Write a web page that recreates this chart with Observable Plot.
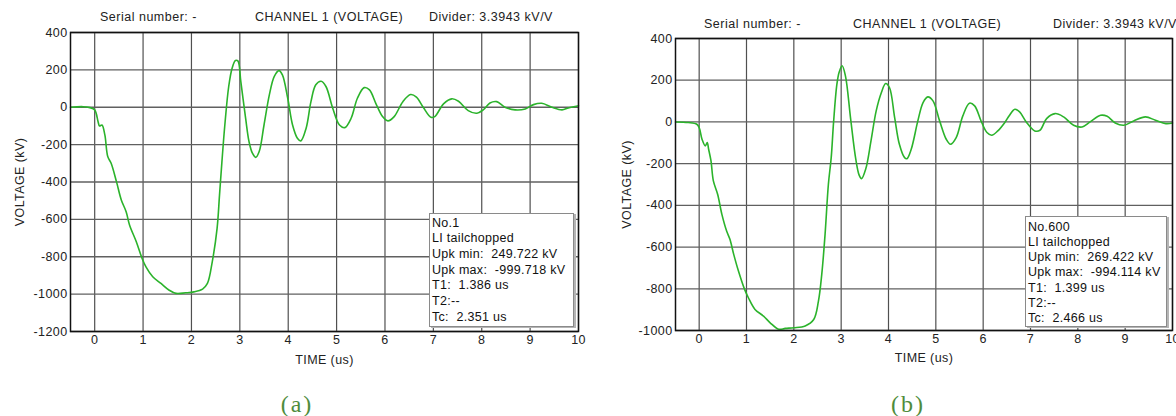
<!DOCTYPE html>
<html><head><meta charset="utf-8">
<script src="https://cdn.jsdelivr.net/npm/d3@7"></script>
<script src="https://cdn.jsdelivr.net/npm/@observablehq/plot@0.6"></script>
<style>
body{margin:0;background:#fff;}
#root{position:relative;width:1176px;height:416px;overflow:hidden;background:#fff;font-family:"Liberation Sans",Arial,sans-serif;color:#222;}
.panel{position:absolute;top:0;}
.t{position:absolute;font-size:12.5px;letter-spacing:0.5px;white-space:pre;line-height:14px;color:#222;}
.box{position:absolute;background:#fff;border:1px solid #8a8a8a;box-shadow:2px 1px 0 #b5b5b5;font-size:12.5px;letter-spacing:0.3px;white-space:pre;box-sizing:border-box;padding-left:2px;color:#111;}
.cap{position:absolute;font-family:"Liberation Serif","Times New Roman",serif;font-size:24px;color:#4f8c3c;letter-spacing:2px;transform:translate(-50%,-50%);}
</style></head>
<body>
<div id="root"></div>
<script>
// ---- data ----
const xTicks = [0,1,2,3,4,5,6,7,8,9,10];
const yTicksA = [-1200,-1000,-800,-600,-400,-200,0,200,400];
const yTicksB = [-1000,-800,-600,-400,-200,0,200,400];

const timeA = [-0.5,-0.24,-0.1,0,0.07,0.10,0.15,0.21,0.27,0.34,0.45,0.55,0.65,0.72,0.86,0.98,1.06,1.20,1.37,1.54,1.68,1.88,2.05,2.23,2.33,2.43,2.53,2.58,2.63,2.69,2.77,2.84,2.91,2.96,3.02,3.12,3.19,3.26,3.33,3.40,3.50,3.61,3.71,3.81,3.88,3.99,4.09,4.19,4.26,4.37,4.47,4.57,4.68,4.78,4.92,5.06,5.17,5.30,5.43,5.57,5.68,5.81,5.95,6.06,6.19,6.37,6.53,6.65,6.79,6.95,7.03,7.21,7.38,7.52,7.72,7.90,8.03,8.17,8.31,8.48,8.69,8.90,9.07,9.24,9.45,9.66,9.79,10.0];
const voltA = [0,3,-2,-14,-77,-100,-95,-148,-264,-300,-398,-496,-559,-630,-720,-809,-854,-907,-943,-979,-996,-993,-988,-973,-943,-827,-648,-470,-291,-95,111,209,250,248,138,-60,-184,-246,-268,-237,-95,66,164,196,173,48,-95,-166,-180,-112,30,120,139,111,-5,-95,-109,-59,48,105,93,21,-50,-73,-50,30,68,54,0,-54,-50,18,45,32,-18,-32,-14,23,30,0,-14,-9,14,21,0,-14,-4,8];

const timeB = [-0.5,-0.23,-0.05,0,0.06,0.13,0.17,0.20,0.25,0.30,0.39,0.48,0.58,0.65,0.73,0.83,0.96,1.04,1.18,1.36,1.50,1.68,1.82,2.0,2.24,2.42,2.52,2.59,2.66,2.73,2.79,2.84,2.91,2.96,3.02,3.09,3.20,3.31,3.38,3.43,3.52,3.63,3.74,3.85,3.94,4.02,4.13,4.23,4.34,4.39,4.48,4.62,4.73,4.83,4.94,5.08,5.22,5.31,5.43,5.57,5.71,5.82,5.96,6.08,6.18,6.31,6.45,6.55,6.67,6.77,6.91,7.09,7.20,7.34,7.52,7.70,7.91,8.09,8.26,8.48,8.62,8.79,8.97,9.18,9.43,9.64,9.86,10.0];
const voltB = [0,-3,-11,-27,-83,-115,-99,-131,-187,-283,-347,-443,-523,-563,-635,-715,-803,-843,-899,-931,-963,-994,-990,-987,-978,-947,-859,-731,-539,-299,-170,0,181,240,269,221,15,-180,-255,-272,-225,-91,53,141,184,165,21,-107,-171,-176,-131,5,93,120,101,5,-83,-107,-75,29,90,77,2,-51,-64,-43,-5,30,61,48,0,-43,-40,16,40,24,-16,-24,0,32,27,-5,-16,5,24,8,-8,-5];

const titleSerial = "Serial number: -";
const titleChannel = "CHANNEL 1 (VOLTAGE)";
const titleDivider = "Divider: 3.3943 kV/V";
const infoA = ["No.1","LI tailchopped","Upk min:  249.722 kV","Upk max:  -999.718 kV","T1:  1.386 us","T2:--","Tc:  2.351 us"];
const infoB = ["No.600","LI tailchopped","Upk min:  269.422 kV","Upk max:  -994.114 kV","T1:  1.399 us","T2:--","Tc:  2.466 us"];
const captions = ["(a)","(b)"];

// ---- drawing ----
function panel(time, volt, yTicks, m) {
  const data = time.map((t, i) => ({t, v: volt[i]}));
  return Plot.plot({
    width: m.width, height: 370,
    marginLeft: m.left, marginRight: m.right, marginTop: m.top, marginBottom: m.bottom,
    style: {fontFamily: "Liberation Sans, Arial, sans-serif", fontSize: "12.5px", color: "#222", background: "transparent", overflow: "visible", letterSpacing: "0.4px"},
    x: {domain: [-0.5, 10]},
    y: {domain: [yTicks[0], 400]},
    marks: [
      Plot.gridX(xTicks, {stroke: "#505050", strokeOpacity: 1, strokeWidth: 1.2}),
      Plot.gridY(yTicks, {stroke: "#606060", strokeOpacity: 1, strokeWidth: 1.3}),
      Plot.line(data, {x: "t", y: "v", stroke: "#2bb32b", strokeWidth: 1.6, curve: "catmull-rom"}),
      Plot.frame({stroke: "#111", strokeWidth: 1.5}),
      Plot.axisX(xTicks, {tickSize: 0, tickPadding: 4, tickFormat: d => String(d), label: "TIME (us)", labelAnchor: "center", labelArrow: "none", labelOffset: m.xlab}),
      Plot.axisY(yTicks, {tickSize: 0, tickPadding: 3, tickFormat: d => String(d), label: "VOLTAGE (kV)", labelAnchor: "center", labelArrow: "none", labelOffset: m.ylab})
    ]
  });
}

const root = document.getElementById("root");
function addDiv(cls, text, left, top, parent = root) {
  const d = document.createElement("div");
  d.className = cls; d.textContent = text;
  d.style.left = left + "px"; d.style.top = top + "px";
  parent.appendChild(d); return d;
}

const pa = panel(timeA, voltA, yTicksA, {width: 590, left: 70, right: 12, top: 32, bottom: 39, xlab: 32, ylab: 55});
const wa = document.createElement("div"); wa.className = "panel"; wa.style.left = "0px"; wa.appendChild(pa); root.appendChild(wa);
const pb = panel(timeB, voltB, yTicksB, {width: 586, left: 85, right: 4, top: 38, bottom: 40, xlab: 31, ylab: 53});
const wb = document.createElement("div"); wb.className = "panel"; wb.style.left = "590px"; wb.appendChild(pb); root.appendChild(wb);

// titles
addDiv("t", titleSerial, 100, 10);
addDiv("t", titleChannel, 255, 10);
addDiv("t", titleDivider, 429, 10);
addDiv("t", titleSerial, 704, 17);
addDiv("t", titleChannel, 853, 17);
addDiv("t", titleDivider, 1053, 17);

// info boxes
function infoBox(lines, left, top, w, h, lh, pt) {
  const b = document.createElement("div");
  b.className = "box";
  b.style.left = left + "px"; b.style.top = top + "px";
  b.style.width = w + "px"; b.style.height = h + "px";
  b.style.lineHeight = lh + "px"; b.style.paddingTop = pt + "px";
  b.textContent = lines.join("\n");
  root.appendChild(b);
}
infoBox(infoA, 429, 213, 145, 114, 15.7, 1.5);
infoBox(infoB, 1025, 216, 142, 111, 15.3, 2.5);

// captions
addDiv("cap", captions[0], 297, 404);
addDiv("cap", captions[1], 908, 404);
</script>
</body></html>
